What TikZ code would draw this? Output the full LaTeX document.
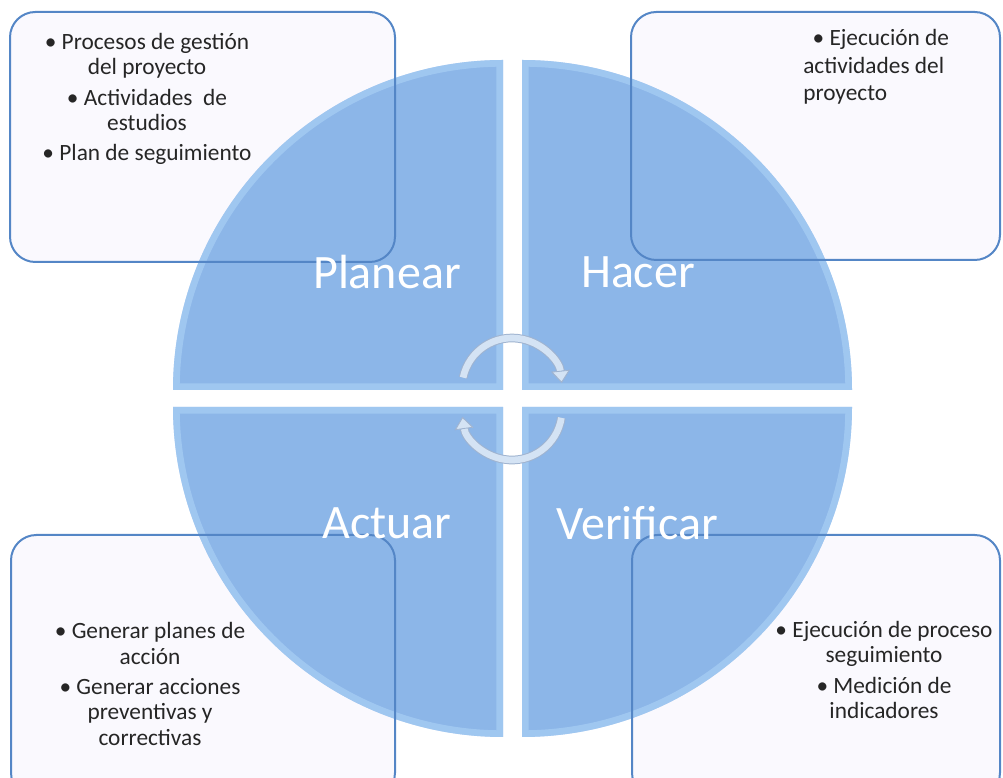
\documentclass[tikz,border=0pt]{standalone}
\usepackage{fontspec}
\setmainfont{Carlito}
\usetikzlibrary{positioning, arrows.meta}

\definecolor{azulCirculo}{RGB}{140,182,232}
\definecolor{azulBisel}{RGB}{176,213,248}
\definecolor{azulBorde}{RGB}{84,134,198}
\definecolor{fondoCaja}{RGB}{250,249,254}
\definecolor{flechaCiclo}{RGB}{212,227,244}
\definecolor{bordeFlecha}{RGB}{160,180,208}

\tikzset{
  fondo/.style={fill=fondoCaja, rounded corners=19pt},
  marco/.style={draw=azulBorde, line width=1.5pt, rounded corners=19pt},
  cuadrante/.style={fill=azulCirculo},
  bisel/.style={draw=azulBisel, line width=10pt, opacity=0.55},
  viñeta/.style={font=\fontsize{17.5pt}{19pt}\selectfont, text=black!85, align=center, inner sep=0pt},
  etiqueta/.style={font=\fontsize{36pt}{43pt}\selectfont, text=white, inner sep=0pt},
  ciclo/.style={draw=flechaCiclo, line width=5pt,
    preaction={draw=bordeFlecha, line width=6.5pt},
    -{Triangle[length=9pt, width=14pt, fill=flechaCiclo, color=bordeFlecha, line width=0.6pt]}}
}

\begin{document}
\begin{tikzpicture}[x=0.75pt, y=0.75pt]
  \useasboundingbox (0,0) rectangle (1003,778);
  \clip (0,0) rectangle (1003,778);

  % cajas de fondo
  \fill[fondo] (10,516) rectangle (395,766);
  \fill[fondo] (631,518) rectangle (1000,766);
  \fill[fondo] (11,-20) rectangle (395,243);
  \fill[fondo] (632,-20) rectangle (1000,243);

  % los cuatro cuadrantes del circulo
  \foreach \cx/\cy/\a in {503/388/180, 522/388/90, 522/371/0, 503/371/270}{
    \fill[cuadrante] (\cx,\cy) -- ++(\a:330) arc[start angle=\a, end angle=\a-90, radius=330] -- cycle;
    \begin{scope}
      \clip (\cx,\cy) -- ++(\a:330) arc[start angle=\a, end angle=\a-90, radius=330] -- cycle;
      \draw[bisel] (\cx,\cy) -- ++(\a:330) arc[start angle=\a, end angle=\a-90, radius=330] -- cycle;
    \end{scope}
  }

  % marcos de las cajas
  \draw[marco] (10,516) rectangle (395,766);
  \draw[marco] (631,518) rectangle (1000,766);
  \draw[marco] (11,-20) rectangle (395,243);
  \draw[marco] (632,-20) rectangle (1000,243);

  % nombres de las fases
  \node[etiqueta] (planear) at (387,506) {Planear};
  \node[etiqueta] (hacer) at (638,506) {Hacer};
  \node[etiqueta] (actuar) at (387,255) {Actuar};
  \node[etiqueta] (verificar) at (637,255) {Verificar};

  % textos de las cajas
  \node[viñeta] (txtPlanear) at (147,679) {• Procesos de gestión\\ del proyecto\\[3.75pt] • Actividades~ de\\ estudios\\[3.75pt] • Plan de seguimiento};
  \node[viñeta, align=left, anchor=west] (txtHacer) at (803,711) {\hspace*{7pt}• Ejecución de\\[1.5pt] actividades del\\[1.5pt] proyecto};
  \node[viñeta] (txtActuar) at (150,94) {• Generar planes de\\ acción\\[3.75pt] • Generar acciones\\ preventivas y\\ correctivas};
  \node[viñeta] (txtVerificar) at (884,108) {• Ejecución de proceso\\ seguimiento\\[3.75pt] • Medición de\\ indicadores};

  % flechas del ciclo
  \coordinate (cicloArriba) at (512,390);
  \coordinate (cicloAbajo) at (512,368);
  \draw[ciclo] ([shift={(168:50)}]cicloArriba) arc[start angle=168, end angle=6, radius=50];
  \draw[ciclo] ([shift={(-9:50)}]cicloAbajo) arc[start angle=-9, end angle=-172, radius=50];
\end{tikzpicture}
\end{document}
